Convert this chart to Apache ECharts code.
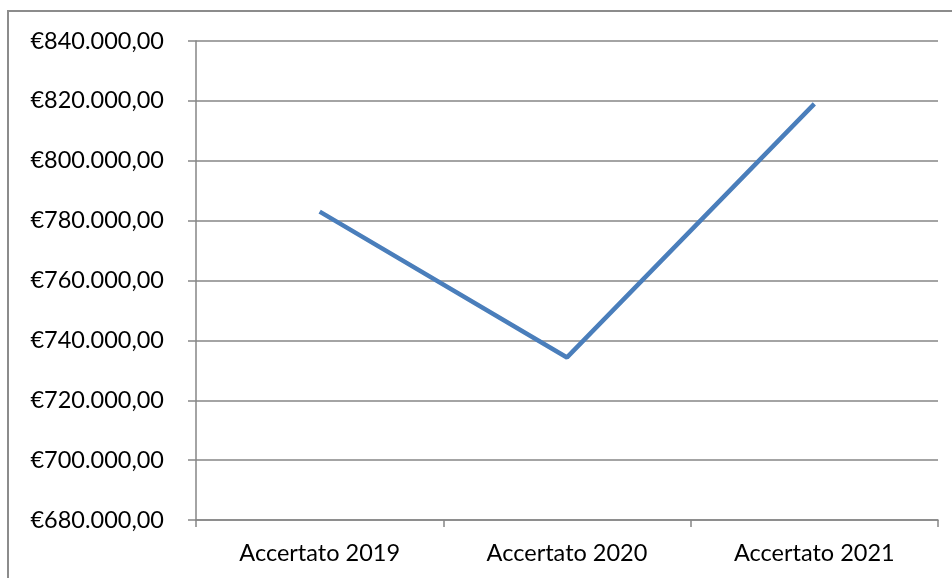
<!DOCTYPE html>
<html><head><meta charset="utf-8">
<script src="https://cdn.jsdelivr.net/npm/echarts@6/dist/echarts.min.js"></script>
<style>html,body{margin:0;padding:0;background:#fff}#c{width:952px;height:578px}</style>
</head><body><div id="c"></div>
<script>
const categories = ['Accertato 2019', 'Accertato 2020', 'Accertato 2021'];
const values = [783000, 734300, 819000];
const yMin = 680000, yMax = 840000, yStep = 20000;

function fmt(v){
  const s = Math.round(v).toString().replace(/\B(?=(\d{3})+(?!\d))/g, '.');
  return '€' + s + ',00';
}
const chart = echarts.init(document.getElementById('c'), null, {renderer:'canvas'});
const font = 'Lato, "Open Sans", sans-serif';
chart.setOption({
  animation:false,
  backgroundColor:'#fff',
  graphic:[{type:'rect', shape:{x:8, y:11, width:1000, height:1000}, style:{fill:'none', stroke:'#8c8c8c', lineWidth:2}, silent:true}],
  grid:{left:196, right:14, top:41, bottom:58, containLabel:false},
  xAxis:{type:'category', data:categories, boundaryGap:true,
    axisLine:{lineStyle:{color:'#868686', width:1.5}},
    axisTick:{show:true, length:7, alignWithLabel:false, lineStyle:{color:'#868686', width:1.5}},
    axisLabel:{color:'#000', fontFamily:font, fontSize:23.5, margin:21}},
  yAxis:{type:'value', min:yMin, max:yMax, interval:yStep,
    axisLine:{show:true, lineStyle:{color:'#868686', width:1.5}},
    axisTick:{show:true, length:8, lineStyle:{color:'#868686', width:1.5}},
    splitLine:{lineStyle:{color:'#868686', width:1.5}},
    axisLabel:{color:'#000', fontFamily:font, fontSize:23.5, margin:32, formatter:fmt}},
  series:[{type:'line', data:values, symbol:'none', lineStyle:{color:'#4a7ebb', width:4.5}}]
});
</script></body></html>
